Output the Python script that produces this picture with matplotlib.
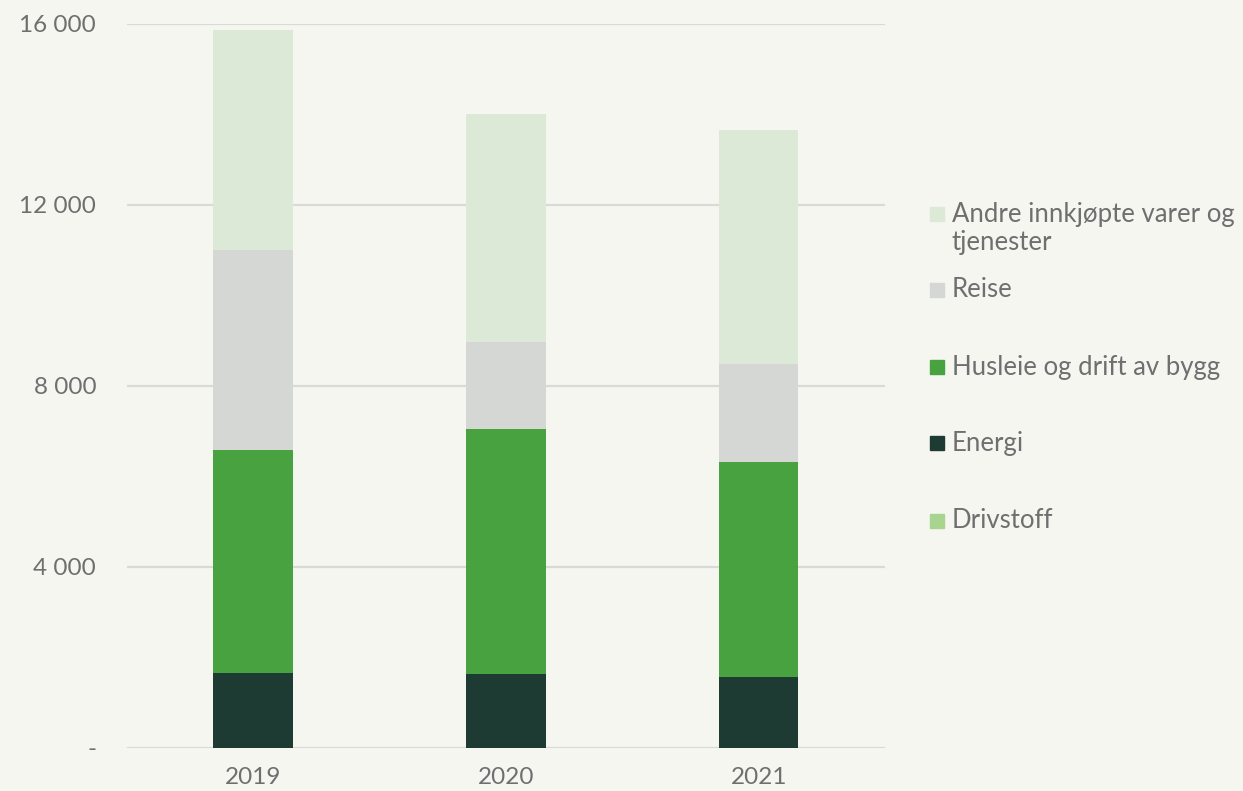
import matplotlib
matplotlib.use("Agg")
import matplotlib.pyplot as plt
import numpy as np
from matplotlib.patches import Rectangle
from matplotlib.ticker import FuncFormatter

YEARS = ["2019", "2020", "2021"]

# stacked bottom -> top
DRIVSTOFF = [10, 10, 10]
ENERGI = [1650, 1635, 1565]
HUSLEIE = [4935, 5415, 4755]
REISE = [4420, 1905, 2145]
ANDRE = [4860, 5055, 5190]

SERIES = [
    ("Drivstoff", DRIVSTOFF, "#a7d48f"),
    ("Energi", ENERGI, "#1e3b33"),
    ("Husleie og drift av bygg", HUSLEIE, "#48a23f"),
    ("Reise", REISE, "#d4d7d3"),
    ("Andre innkjøpte varer og\ntjenester", ANDRE, "#dce9d6"),
]

BG = "#f6f6f1"
TEXT = "#6f6f6f"


def fmt(v, _pos):
    if v == 0:
        return "-"
    return f"{int(v):,}".replace(",", " ")


def main() -> None:
    plt.rcParams["font.family"] = ["Lato", "DejaVu Sans"]

    fig = plt.figure(figsize=(12.43, 7.91), dpi=100, facecolor=BG)
    ax = fig.add_axes([0.102, 0.0544, 0.61, 0.9153], facecolor=BG)

    x = np.arange(len(YEARS))
    bottom = np.zeros(len(YEARS))
    for label, values, color in SERIES:
        ax.bar(x, values, width=0.315, bottom=bottom, color=color,
               linewidth=0, zorder=3, label=label)
        bottom += np.array(values)

    ax.set_xlim(-0.5, 2.5)
    ax.set_ylim(0, 16000)
    ax.set_yticks([0, 4000, 8000, 12000, 16000])
    ax.yaxis.set_major_formatter(FuncFormatter(fmt))
    ax.set_xticks(x)
    ax.set_xticklabels(YEARS)
    ax.grid(axis="y", color="#d9dad6", linewidth=1.6, zorder=0)
    for s in ax.spines.values():
        s.set_visible(False)
    ax.tick_params(axis="y", length=0, pad=22, labelsize=17.5, labelcolor=TEXT)
    ax.tick_params(axis="x", length=0, pad=14, labelsize=17.5, labelcolor=TEXT)

    # legend drawn by hand so the two-line entry aligns on its first line
    legend_y = [214, 290, 367, 443, 521]
    for (label, _v, color), yp in zip(reversed(SERIES), legend_y):
        yf = 1 - yp / 791
        fig.patches.append(Rectangle((930 / 1243, yf - 7 / 791), 14 / 1243, 14 / 791,
                                     transform=fig.transFigure, color=color))
        first_line_offset = 0 if "\n" not in label else -14.5 / 791
        fig.text(952 / 1243, yf + first_line_offset, label, fontsize=18.5,
                 color=TEXT, va="center", ha="left", linespacing=1.15)

    fig.savefig("out.png", dpi=100, facecolor=BG)
    plt.close(fig)


if __name__ == "__main__":
    main()
